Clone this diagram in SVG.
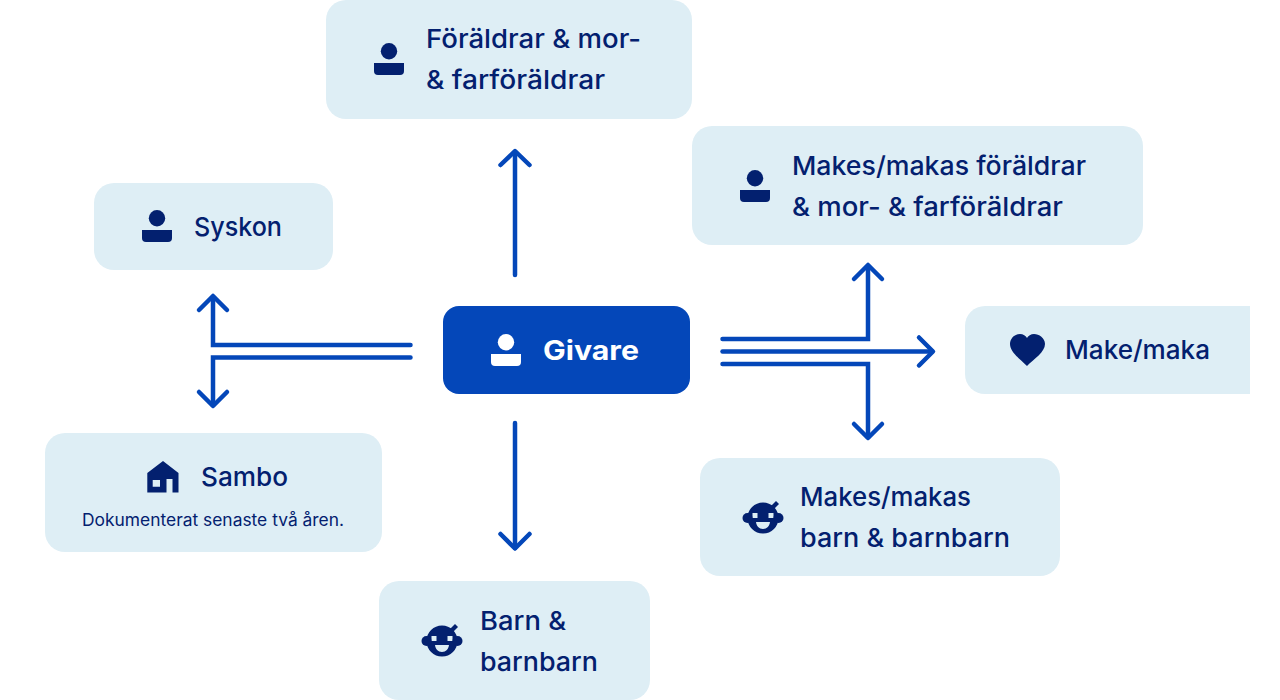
<svg xmlns="http://www.w3.org/2000/svg" width="1280" height="700" viewBox="0 0 1280 700">
<style>
.box{fill:#deeef5}
.t{font-family:"Inter","Liberation Sans",sans-serif;font-size:26px;font-weight:500;fill:#03206f}
.s{font-size:17px;font-weight:400}
.w{fill:#fff;font-weight:700;font-size:27px}
.i{fill:#03206f}
.l{fill:none;stroke:#0447b9;stroke-width:4.500;stroke-linecap:round;stroke-linejoin:miter}
.h{stroke-linejoin:round}
</style>
<defs>
<g id="person"><circle cx="0" cy="-8.700" r="8.200"/><path d="M-15 3H15V11a4 4 0 0 1-4 4H-11a4 4 0 0 1-4-4Z"/></g>
<g id="baby"><path fill-rule="evenodd" d="M0 -14.500A15.500 15.500 0 0 1 0 16.500A15.500 15.500 0 0 1 0 -14.500ZM-10.500 -4V1H-5.500V-4ZM5.500 -4V1H10.500V-4ZM-7 5C-6.500 9 -4 12 0 12C4 12 6.500 9 7 5Z"/><circle cx="-15.500" cy="1" r="5"/><circle cx="15.500" cy="1" r="5"/><path d="M8 -11L13 -16L16 -13L11 -8Z"/></g>
</defs>
<g id="connectors">
<path class="l" d="M515 275V152"/><path class="l h" d="M500.500 165L515 151L529.500 165"/>
<path class="l" d="M515 423V548"/><path class="l h" d="M500.500 534L515 548.500L529.500 534"/>
<path class="l" d="M410.500 345H213V297"/><path class="l h" d="M199 310L213 296L227 310"/>
<path class="l" d="M410.500 357.500H213V405"/><path class="l h" d="M199 392L213 406L227 392"/>
<path class="l" d="M722.500 339H868V266"/><path class="l h" d="M854 279L868 265L882 279"/>
<path class="l" d="M722.500 351.500H932"/><path class="l h" d="M919 337.500L933 351.500L919 365.500"/>
<path class="l" d="M722.500 364H868V437"/><path class="l h" d="M854 424L868 438L882 424"/>
</g>
<g id="node-foraldrar"><rect class="box" x="326" y="0" width="366" height="119" rx="20"/><use href="#person" class="i" x="389" y="60"/><text class="t" x="426" y="48" textLength="215" lengthAdjust="spacingAndGlyphs">Föräldrar &amp; mor-</text><text class="t" x="426" y="89" textLength="179" lengthAdjust="spacingAndGlyphs">&amp; farföräldrar</text></g>
<g id="node-makes-foraldrar"><rect class="box" x="692" y="126" width="451" height="119" rx="20"/><use href="#person" class="i" x="755" y="187"/><text class="t" x="792" y="175" textLength="294" lengthAdjust="spacingAndGlyphs">Makes/makas föräldrar</text><text class="t" x="792" y="216" textLength="271" lengthAdjust="spacingAndGlyphs">&amp; mor- &amp; farföräldrar</text></g>
<g id="node-syskon"><rect class="box" x="94" y="183" width="239" height="87" rx="20"/><use href="#person" class="i" x="157" y="227"/><text class="t" x="194" y="236" textLength="88" lengthAdjust="spacingAndGlyphs">Syskon</text></g>
<g id="node-givare"><rect x="443" y="306" width="247" height="88" rx="16" fill="#0447b9"/><use href="#person" fill="#fff" x="506" y="351"/><text class="t w" x="543" y="360" textLength="96" lengthAdjust="spacingAndGlyphs">Givare</text></g>
<g id="node-make"><path class="box" d="M985 306H1250V394H985A20 20 0 0 1 965 374V326A20 20 0 0 1 985 306Z"/><path class="i" d="M1027 366C1020 359 1010 352 1010 344C1010 338 1015 334 1020 334C1023 334 1026 336 1027 338C1028 336 1031 334 1034 334C1039 334 1045 338 1045 344C1045 352 1034 359 1027 366Z"/><text class="t" x="1065" y="359" textLength="145" lengthAdjust="spacingAndGlyphs">Make/maka</text></g>
<g id="node-sambo"><rect class="box" x="45" y="433" width="337" height="119" rx="20"/><path class="i" fill-rule="evenodd" d="M163 461L178.500 473V492.500H172.500V479H166.500V492.500H147.300V473ZM152.700 480V486.700H160V480Z"/><text class="t" x="201" y="486" textLength="87" lengthAdjust="spacingAndGlyphs">Sambo</text><text class="t s" x="82" y="526" textLength="262" lengthAdjust="spacingAndGlyphs">Dokumenterat senaste två åren.</text></g>
<g id="node-makes-barn"><rect class="box" x="700" y="458" width="360" height="118" rx="20"/><use href="#baby" class="i" x="763" y="517"/><text class="t" x="800" y="506" textLength="171" lengthAdjust="spacingAndGlyphs">Makes/makas</text><text class="t" x="800" y="547" textLength="210" lengthAdjust="spacingAndGlyphs">barn &amp; barnbarn</text></g>
<g id="node-barn"><rect class="box" x="379" y="581" width="271" height="119" rx="20"/><use href="#baby" class="i" x="442" y="640"/><text class="t" x="480" y="630" textLength="86" lengthAdjust="spacingAndGlyphs">Barn &amp;</text><text class="t" x="480" y="671" textLength="118" lengthAdjust="spacingAndGlyphs">barnbarn</text></g>
</svg>
